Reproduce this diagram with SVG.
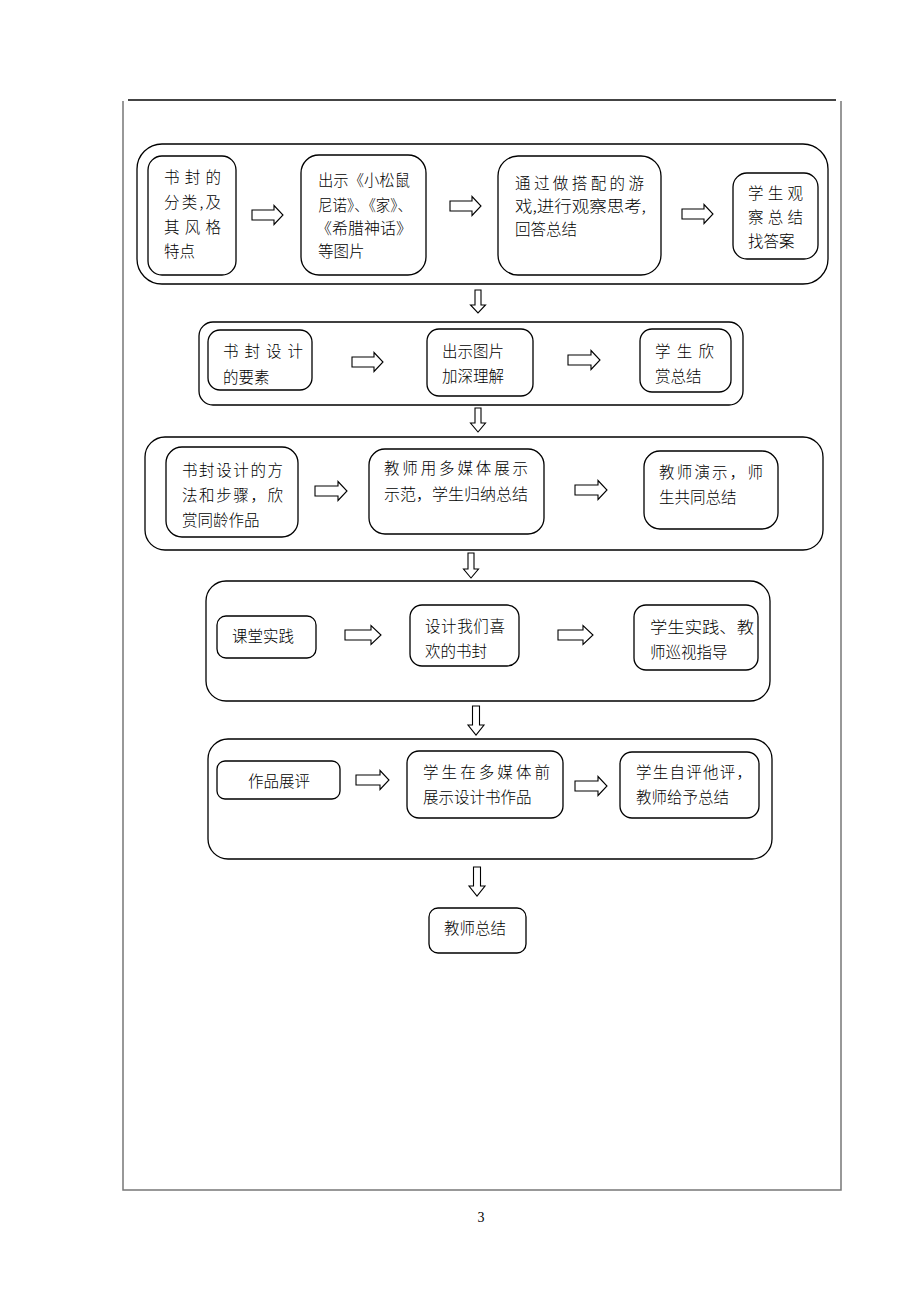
<svg xmlns="http://www.w3.org/2000/svg" width="920" height="1302" viewBox="0 0 920 1302">
<style>
.frame{fill:none;stroke:#777;stroke-width:1.5}
.topline{stroke:#444;stroke-width:2}
.outer{fill:none;stroke:#000;stroke-width:1.3}
.box{fill:#fff;stroke:#000;stroke-width:1.3}
.arr{fill:#fff;stroke:#000;stroke-width:1.1;stroke-linejoin:miter}
text{font-family:"Noto Sans CJK SC","Noto Sans CJK JP",sans-serif;font-size:15.5px;font-weight:300;fill:#000}
.pn{font-family:"Liberation Serif",serif;font-size:14px;font-weight:400}
</style>
<rect width="920" height="1302" fill="#fff"/>
<g id="page">
<line class="topline" x1="128" y1="100" x2="836" y2="100"/>
<path class="frame" d="M123,101 V1190 H841 V101"/>
<text class="pn" x="481" y="1222" text-anchor="middle">3</text>
</g>
<g id="group1">
<rect class="outer" x="137" y="144" width="691" height="140" rx="25"/>
</g>
<g id="n1a"><rect class="box" x="148" y="156" width="88" height="119" rx="14"/>
<text x="164" y="183" textLength="57" lengthAdjust="spacing">书封的</text>
<text x="164" y="208" textLength="57" lengthAdjust="spacing">分类,及</text>
<text x="164" y="233" textLength="57" lengthAdjust="spacing">其风格</text>
<text x="164" y="257">特点</text></g>
<g id="n1b"><rect class="box" x="301" y="155" width="125" height="120" rx="18"/>
<text x="318" y="186" textLength="92" lengthAdjust="spacingAndGlyphs">出示《小松鼠</text>
<text x="318" y="211" textLength="94" lengthAdjust="spacingAndGlyphs">尼诺》、《家》、</text>
<text x="316" y="234" textLength="96" lengthAdjust="spacingAndGlyphs">《希腊神话》</text>
<text x="318" y="257">等图片</text></g>
<g id="n1c"><rect class="box" x="498" y="156" width="163" height="119" rx="20"/>
<text x="515" y="189" textLength="129" lengthAdjust="spacing">通过做搭配的游</text>
<text x="515" y="212" textLength="131" lengthAdjust="spacingAndGlyphs">戏,进行观察思考,</text>
<text x="515" y="235">回答总结</text></g>
<g id="n1d"><rect class="box" x="733" y="173" width="85" height="86" rx="14"/>
<text x="748" y="199" textLength="55" lengthAdjust="spacing">学生观</text>
<text x="748" y="223" textLength="55" lengthAdjust="spacing">察总结</text>
<text x="748" y="247">找答案</text></g>

<g id="group2"><rect class="outer" x="199" y="322" width="544" height="83" rx="14"/></g>
<g id="n2a"><rect class="box" x="208" y="330" width="104" height="60" rx="12"/>
<text x="223" y="357" textLength="80" lengthAdjust="spacing">书封设计</text>
<text x="223" y="383">的要素</text></g>
<g id="n2b"><rect class="box" x="427" y="329" width="106" height="67" rx="12"/>
<text x="442" y="357">出示图片</text>
<text x="442" y="382">加深理解</text></g>
<g id="n2c"><rect class="box" x="640" y="329" width="91" height="63" rx="12"/>
<text x="655" y="357" textLength="59" lengthAdjust="spacing">学生欣</text>
<text x="655" y="382">赏总结</text></g>

<g id="group3"><rect class="outer" x="145" y="437" width="678" height="113" rx="20"/></g>
<g id="n3a"><rect class="box" x="166" y="447" width="132" height="90" rx="16"/>
<text x="182" y="476" textLength="101" lengthAdjust="spacing">书封设计的方</text>
<text x="182" y="501" textLength="101" lengthAdjust="spacing">法和步骤，欣</text>
<text x="182" y="526">赏同龄作品</text></g>
<g id="n3b"><rect class="box" x="369" y="449" width="175" height="85" rx="16"/>
<text x="384" y="474" textLength="144" lengthAdjust="spacing">教师用多媒体展示</text>
<text x="384" y="500" textLength="144" lengthAdjust="spacingAndGlyphs">示范，学生归纳总结</text></g>
<g id="n3c"><rect class="box" x="644" y="451" width="134" height="78" rx="16"/>
<text x="659" y="478" textLength="104" lengthAdjust="spacing">教师演示，师</text>
<text x="659" y="503">生共同总结</text></g>

<g id="group4"><rect class="outer" x="206" y="581" width="564" height="120" rx="20"/></g>
<g id="n4a"><rect class="box" x="217" y="616" width="99" height="42" rx="9"/>
<text x="232" y="642">课堂实践</text></g>
<g id="n4b"><rect class="box" x="410" y="605" width="109" height="61" rx="12"/>
<text x="425" y="632" textLength="80" lengthAdjust="spacing">设计我们喜</text>
<text x="425" y="657">欢的书封</text></g>
<g id="n4c"><rect class="box" x="634" y="605" width="124" height="65" rx="12"/>
<text x="650" y="633" textLength="104" lengthAdjust="spacingAndGlyphs">学生实践、教</text>
<text x="650" y="658">师巡视指导</text></g>

<g id="group5"><rect class="outer" x="208" y="739" width="564" height="120" rx="20"/></g>
<g id="n5a"><rect class="box" x="217" y="761" width="123" height="38" rx="8"/>
<text x="248" y="787">作品展评</text></g>
<g id="n5b"><rect class="box" x="407" y="751" width="156" height="67" rx="12"/>
<text x="423" y="778" textLength="127" lengthAdjust="spacing">学生在多媒体前</text>
<text x="423" y="803">展示设计书作品</text></g>
<g id="n5c"><rect class="box" x="620" y="752" width="139" height="66" rx="12"/>
<text x="636" y="778" textLength="116" lengthAdjust="spacing">学生自评他评，</text>
<text x="636" y="803">教师给予总结</text></g>

<g id="n6"><rect class="box" x="429" y="908" width="97" height="45" rx="9"/>
<text x="444" y="934">教师总结</text></g>

<g id="connectors">
<path class="arr" d="M252,210 H274 V205.5 L283,215 L274,224.5 V220 H252 Z"/>
<path class="arr" d="M450,201 H472 V196.5 L481,206 L472,215.5 V211 H450 Z"/>
<path class="arr" d="M682,209 H704 V204.5 L713,214 L704,223.5 V219 H682 Z"/>
<path class="arr" d="M352,357 H374 V352.5 L383,362 L374,371.5 V367 H352 Z"/>
<path class="arr" d="M568,355 H591 V350.5 L600,360 L591,369.5 V365 H568 Z"/>
<path class="arr" d="M315,486 H338 V481.5 L347,491 L338,500.5 V496 H315 Z"/>
<path class="arr" d="M575,485 H598 V480.5 L607,490 L598,499.5 V495 H575 Z"/>
<path class="arr" d="M345,630 H371 V625.5 L381,635 L371,644.5 V640 H345 Z"/>
<path class="arr" d="M558,630 H583 V625.5 L593,635 L583,644.5 V640 H558 Z"/>
<path class="arr" d="M356,775 H380 V770.5 L389,780 L380,789.5 V785 H356 Z"/>
<path class="arr" d="M575,781 H598 V776.5 L607,786 L598,795.5 V791 H575 Z"/>
<path class="arr" d="M475,290 V305 H470.5 L478,313 L485.5,305 H481 V290 Z"/>
<path class="arr" d="M475,408 V423 H470.5 L478,432 L485.5,423 H481 V408 Z"/>
<path class="arr" d="M468,553 V569 H463.5 L471,578 L478.5,569 H474 V553 Z"/>
<path class="arr" d="M472.5,706 V725 H468 L476,735 L484,725 H479.5 V706 Z"/>
<path class="arr" d="M473.5,867 V886 H469 L477,896 L485,886 H480.5 V867 Z"/>
</g>
</svg>
